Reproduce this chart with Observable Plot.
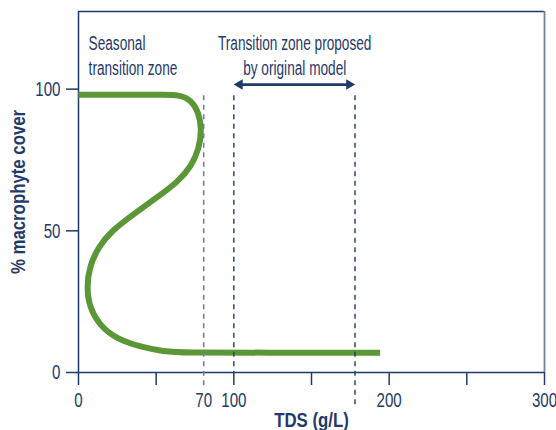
<!DOCTYPE html>
<html>
<head>
<meta charset="utf-8">
<script src="https://cdn.jsdelivr.net/npm/d3@7"></script>
<script src="https://cdn.jsdelivr.net/npm/@observablehq/plot@0.6"></script>
<style>
  html, body { margin: 0; padding: 0; background: #fff; }
  #chart { width: 556px; height: 430px; }
</style>
</head>
<body>
<div id="chart"></div>
<script>
// ---- data ----
const tdsValues   = [0, 40, 55, 64.5, 72.6, 77.3, 79.4, 77.6, 72.6, 63.7, 50.8, 35.7, 21.5, 12.6, 7.0, 5.3, 7.0, 13.9, 25.0, 40.0, 55.0, 67.9, 120, 194.2];
const coverValues = [98, 98, 98, 98, 96.2, 91.8, 86.0, 78.9, 72.8, 67.1, 61.9, 56.0, 50.1, 44.2, 37.2, 30.1, 23.0, 16.4, 11.7, 9.1, 7.4, 7.0, 7.0, 7.0];

const xTicks = [0, 50, 100, 150, 200, 250, 300];
const xTickLabels = ["0", "", "100", "", "200", "", "300"];
const yTicks = [0, 50, 100];

const seasonalLine = [80.6];          // dashed line labelled "70"
const seasonalLabel = ["70"];
const seasonalSpan = [97.7, -5.6];    // y1, y2
const proposedZone = [100, 178];      // dashed lines of original model
const proposedSpans = [[97.7, 0], [97.7, -12.3]];
const arrowY = [101.6];

const seasonalText = ["Seasonal\ntransition zone"];
const seasonalTextPos = [6.5, 120.2];
const proposedText = ["Transition zone proposed\nby original model"];
const proposedTextPos = [139.2, 120.2];

const xLabel = ["TDS (g/L)"];
const yLabel = ["% macrophyte cover"];

const xDomain = [0, 300];
const yDomain = [0, 127.4];

// ---- styles ----
const navy = "#1f3a6b";
const slate = "#6f7f9d";
const green = "#5b9637";
const font = "'Liberation Sans', Arial, sans-serif";

const curve = tdsValues.map((x, i) => ({x, y: coverValues[i]}));
const proposed = proposedZone.map((x, i) => ({x, y1: proposedSpans[i][0], y2: proposedSpans[i][1]}));

const chart = Plot.plot({
  width: 556,
  height: 430,
  marginTop: 11,
  marginRight: 12,
  marginBottom: 58,
  marginLeft: 78,
  x: {domain: xDomain},
  y: {domain: yDomain},
  style: {fontFamily: font, fontSize: "21px", color: navy, background: "#fff", overflow: "visible"},
  marks: [
    // frame top and right
    Plot.ruleY([yDomain[1]], {stroke: navy, strokeWidth: 1.3}),
    Plot.ruleX([xDomain[1]], {stroke: slate, strokeWidth: 1.8}),
    // axes
    Plot.axisY({ticks: yTicks, tickSize: 12, tickPadding: 6, label: null, stroke: navy, strokeWidth: 1.5, fill: navy}),
    Plot.axisX({ticks: xTicks, tickFormat: (d, i) => xTickLabels[i], tickSize: 13, tickPadding: 7, label: null, stroke: navy, strokeWidth: 1.5, fill: navy}),
    Plot.ruleX([0], {stroke: navy, strokeWidth: 1.5}),
    Plot.ruleY([0], {stroke: navy, strokeWidth: 1.5}),
    // curve
    Plot.line(curve, {x: "x", y: "y", stroke: green, strokeWidth: 6, curve: "basis", strokeLinecap: "butt", strokeLinejoin: "round"}),
    // dashed lines
    Plot.ruleX(seasonalLine, {y1: seasonalSpan[0], y2: seasonalSpan[1], stroke: slate, strokeWidth: 1.6, strokeDasharray: "5,4.5", clip: false}),
    Plot.ruleX(proposed, {x: "x", y1: "y1", y2: "y2", stroke: navy, strokeWidth: 1.4, strokeDasharray: "5,4.5"}),
    Plot.text(seasonalLine, {x: d => d, y: 0, text: (d, i) => seasonalLabel[i], lineAnchor: "top", dy: 20, fill: navy}),
    // arrow
    Plot.ruleY(arrowY, {x1: proposedZone[0] + 3, x2: proposedZone[1] - 3, stroke: navy, strokeWidth: 2.6}),
    Plot.dot(arrowY, {x: proposedZone[1], y: d => d, symbol: "triangle", r: 3.9, rotate: 90, dx: -5.8, fill: navy, stroke: null}),
    Plot.dot(arrowY, {x: proposedZone[0], y: d => d, symbol: "triangle", r: 3.9, rotate: -90, dx: 5.8, fill: navy, stroke: null}),
    // annotations
    Plot.text(seasonalText, {x: seasonalTextPos[0], y: seasonalTextPos[1], text: d => d, textAnchor: "start", lineAnchor: "top", lineHeight: 1.19, fill: navy}),
    Plot.text(proposedText, {x: proposedTextPos[0], y: proposedTextPos[1], text: d => d, textAnchor: "middle", lineAnchor: "top", lineHeight: 1.19, fill: navy}),
    // axis titles
    Plot.text(xLabel, {frameAnchor: "bottom", text: d => d, dy: 54, textAnchor: "middle", lineAnchor: "bottom", fontWeight: "bold", fontSize: 20, fill: navy}),
    Plot.text(yLabel, {frameAnchor: "left", text: d => d, dx: -60, rotate: -90, textAnchor: "middle", lineAnchor: "middle", fontWeight: "bold", fontSize: 20, fill: navy})
  ]
});

// condense the text horizontally to mimic the reference's condensed face
const titles = new Set([...xLabel, ...yLabel]);
const ticky = new Set([...xTickLabels, ...seasonalLabel, ...yTicks.map(String)]);
chart.querySelectorAll("text").forEach(t => {
  const content = t.textContent;
  let k = 0.65;
  if (titles.has(content)) k = 0.84;
  else if (ticky.has(content)) k = 0.72;
  const tr = t.getAttribute("transform") || "";
  t.setAttribute("transform", `${tr} scale(${k},1)`);
});
document.getElementById("chart").append(chart);
</script>
</body>
</html>
